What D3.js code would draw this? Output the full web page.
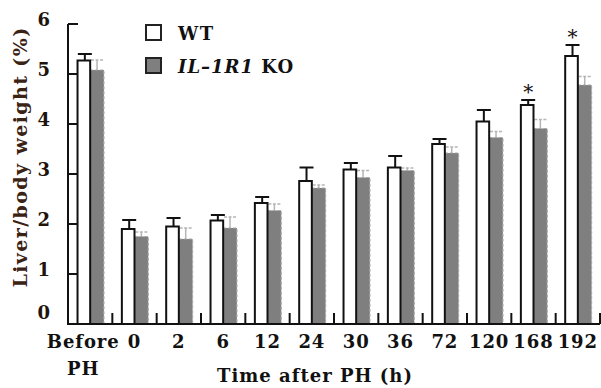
<!DOCTYPE html>
<html><head><meta charset="utf-8">
<script src="https://cdn.jsdelivr.net/npm/d3@7"></script>
<style>
html,body{margin:0;padding:0;background:#fff;}
svg text{font-family:"DejaVu Serif","Liberation Serif",serif;font-weight:bold;}
</style></head>
<body>
<svg id="c" width="601" height="388"></svg>
<script>
const categories = ["Before PH","0","2","6","12","24","30","36","72","120","168","192"];
const wtValues  = [5.27,1.90,1.95,2.07,2.42,2.86,3.09,3.13,3.60,4.05,4.38,5.36];
const wtErrors  = [0.13,0.18,0.17,0.11,0.12,0.27,0.13,0.23,0.10,0.23,0.10,0.22];
const koValues  = [5.08,1.75,1.70,1.92,2.27,2.72,2.93,3.07,3.42,3.73,3.91,4.78];
const koErrors  = [0.20,0.09,0.22,0.22,0.13,0.06,0.14,0.05,0.12,0.12,0.18,0.17];
const significant = ["168","192"];
const yTicks = [0,1,2,3,4,5,6];

const svg = d3.select("#c");
const x = d3.scaleBand().domain(categories).range([68,600]).padding(0);
const y = d3.scaleLinear().domain([0,6]).range([324,24]);
const bw = x.bandwidth();
const wtX = c => x(c) + bw*0.215, wtW = bw*0.285;
const koX = c => x(c) + bw*0.50, koW = bw*0.31;
const FS = 18, LS = "0.9px";

const g = svg.append("g");
categories.forEach((c,i)=>{
  const kx = koX(c) + koW/2;
  g.append("line").attr("x1",kx).attr("x2",kx).attr("y1",y(koValues[i])).attr("y2",y(koValues[i]+koErrors[i]))
    .attr("stroke","#b5b5b5").attr("stroke-width",1.5);
  g.append("line").attr("x1",kx-6).attr("x2",kx+6).attr("y1",y(koValues[i]+koErrors[i])).attr("y2",y(koValues[i]+koErrors[i]))
    .attr("stroke","#b5b5b5").attr("stroke-width",1.5).attr("stroke-dasharray","3,1.5");
  g.append("rect").attr("x",koX(c)).attr("y",y(koValues[i])).attr("width",koW).attr("height",y(0)-y(koValues[i]))
    .attr("fill","#7f7f7f").attr("stroke","#a8a8a8").attr("stroke-width",1.2).attr("stroke-dasharray","3,2");
  const wx = wtX(c) + wtW/2 + 1;
  g.append("line").attr("x1",wx).attr("x2",wx).attr("y1",y(wtValues[i])).attr("y2",y(wtValues[i]+wtErrors[i]))
    .attr("stroke","#111").attr("stroke-width",2);
  g.append("line").attr("x1",wx-7).attr("x2",wx+7).attr("y1",y(wtValues[i]+wtErrors[i])).attr("y2",y(wtValues[i]+wtErrors[i]))
    .attr("stroke","#111").attr("stroke-width",2);
  g.append("rect").attr("x",wtX(c)).attr("y",y(wtValues[i])).attr("width",wtW).attr("height",y(0)-y(wtValues[i]))
    .attr("fill","#fff").attr("stroke","#111").attr("stroke-width",2);
  if (significant.includes(c)) {
    g.append("text").attr("x",wx).attr("y",y(wtValues[i]+wtErrors[i])-1).attr("text-anchor","middle")
      .attr("font-size",20).style("font-weight","normal").attr("fill","#111").text("*");
  }
});

// Y axis
svg.append("line").attr("x1",68).attr("x2",68).attr("y1",y(6)).attr("y2",y(0)).attr("stroke","#111").attr("stroke-width",2);
yTicks.forEach(t=>{
  if (t>0) svg.append("line").attr("x1",68).attr("x2",78).attr("y1",y(t)).attr("y2",y(t)).attr("stroke","#111").attr("stroke-width",2);
  svg.append("text").attr("x",50).attr("y",y(t) + (t===0 ? -5 : 2)).attr("text-anchor","end")
    .attr("font-size",FS).attr("fill","#1e140c").text(t);
});
// X axis
svg.append("line").attr("x1",67).attr("x2",600).attr("y1",y(0)).attr("y2",y(0)).attr("stroke","#111").attr("stroke-width",2);
categories.forEach((c,i)=>{
  const bx = x(c) + bw;
  svg.append("line").attr("x1",bx).attr("x2",bx).attr("y1",y(0)).attr("y2",y(0)-11).attr("stroke","#111").attr("stroke-width",2);
  const cx = x(c) + bw/2;
  if (c === "Before PH") {
    const t = svg.append("text").attr("text-anchor","middle").attr("font-size",FS).style("letter-spacing",LS).attr("fill","#111");
    t.append("tspan").attr("x",cx-7).attr("y",348).text("Before");
    t.append("tspan").attr("x",cx-7).attr("y",375).text("PH");
  } else {
    svg.append("text").attr("x",cx).attr("y",348).attr("text-anchor","middle").attr("font-size",FS).style("letter-spacing",LS).attr("fill","#111").text(c);
  }
});
svg.append("text").attr("x",315).attr("y",382).attr("text-anchor","middle").attr("font-size",FS).style("letter-spacing","1px").attr("fill","#111").text("Time after PH (h)");
svg.append("text").attr("transform","translate(27,157) rotate(-90)").attr("text-anchor","middle")
  .attr("font-size",19).style("letter-spacing","1.4px").attr("fill","#3a2214").text("Liver/body weight (%)");

// Legend
svg.append("rect").attr("x",146).attr("y",25).attr("width",15).attr("height",15).attr("fill","#fff").attr("stroke","#222").attr("stroke-width",2);
svg.append("rect").attr("x",146).attr("y",58).attr("width",15).attr("height",15).attr("fill","#7f7f7f").attr("stroke","#222").attr("stroke-width",2);
svg.append("text").attr("x",178).attr("y",40).attr("font-size",FS).style("letter-spacing","1.5px").attr("fill","#111").text("WT");
const lt = svg.append("text").attr("x",178).attr("y",73).attr("font-size",FS).style("letter-spacing","1px").attr("fill","#111");
lt.append("tspan").attr("font-style","italic").text("IL\u20131R1");
lt.append("tspan").text(" KO");
</script>
</body></html>
